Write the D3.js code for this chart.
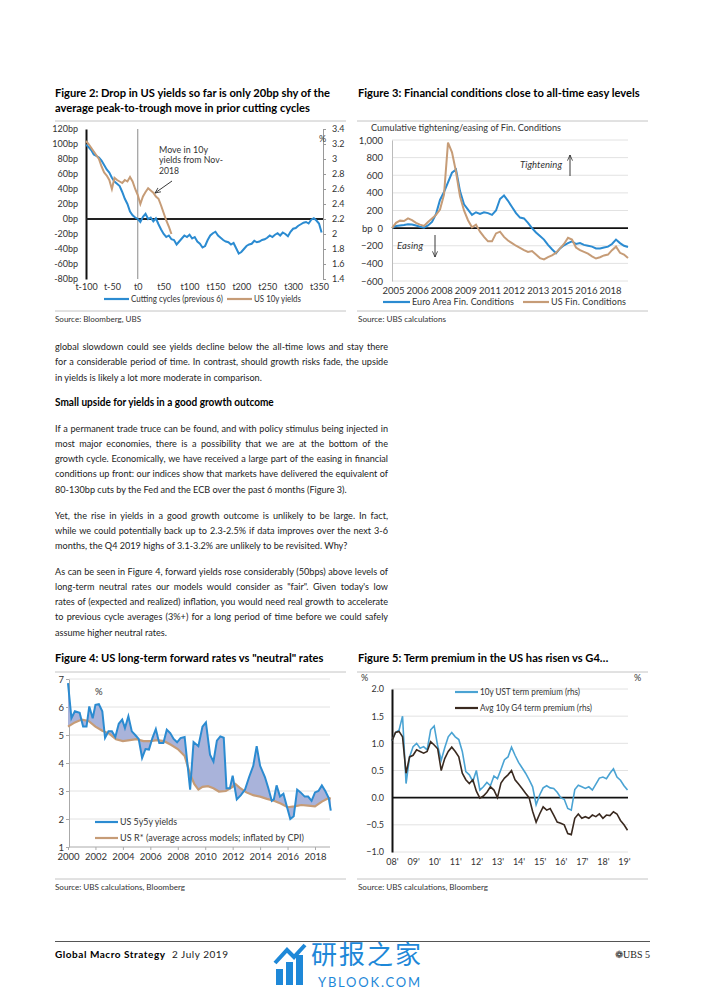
<!DOCTYPE html>
<html>
<head>
<meta charset="utf-8">
<script src="https://cdn.jsdelivr.net/npm/d3@7"></script>
<style>
  body { margin: 0; background: #fff; }
  svg text { font-family: Lato, "Open Sans", sans-serif; fill: #222; }
  .title { font-weight: bold; fill: #000; }
  .tick text { font-size: 9px; fill: #333; }
  .legend { font-size: 9px; fill: #333; }
  .note { font-size: 9px; fill: #333; }
  .source { font-size: 8.3px; fill: #333; }
  .rule { stroke: #c4c4c4; stroke-width: 1; }
  .grid { stroke: #e2e2e2; stroke-width: 1; }
</style>
</head>
<body>
<svg id="page" width="702" height="991"></svg>
<script>
// ---------- Figure 2: cutting cycles vs US 10y ----------
var cycleTicks = [-100, -50, 0, 50, 100, 150, 200, 250, 300, 350];
var bpTicks = [-80, -60, -40, -20, 0, 20, 40, 60, 80, 100, 120];
var pctTicks = [1.4, 1.6, 1.8, 2.0, 2.2, 2.4, 2.6, 2.8, 3.0, 3.2, 3.4];
// bp, one point every 5 days starting at t-100
var cuttingCycles = [99, 96, 92, 86, 84, 82, 78, 72, 66, 62, 55, 50, 47, 44, 36, 27, 20, 10, 5, 2,
  0, -4, 3, 7, 0, 2, -3, 1, -7, -14, -20, -24, -22, -27, -28, -34, -30, -26, -22, -24,
  -21, -26, -24, -30, -33, -38, -36, -28, -22, -19, -17, -22, -25, -28, -30, -31, -34, -32, -39, -46,
  -44, -40, -36, -34, -33, -29, -31, -30, -28, -27, -25, -22, -24, -21, -19, -22, -18, -20, -23, -17,
  -13, -12, -9, -7, -5, -4, -6, -1, 1, -2, -6, -18];
// %, one point every 5 days starting at t-100 (Nov-2018 peak)
var us10y = [3.24, 3.20, 3.15, 3.10, 3.05, 3.00, 2.90, 2.82, 2.78, 2.72, 2.60, 2.75, 2.72, 2.70, 2.68, 2.72, 2.70,
  2.76, 2.70, 2.60, 2.52, 2.40, 2.50, 2.56, 2.61, 2.58, 2.55, 2.50, 2.47, 2.38, 2.28, 2.18, 2.10, 2.00];

// ---------- Figure 3: financial conditions ----------
var fciLabels = ['2005', '2006', '2008', '2009', '2011', '2012', '2013', '2015', '2016', '2018'];
var fciTicks = [-600, -400, -200, 0, 200, 400, 600, 800, 1000];
var euroFci = [0, 25, 30, 35, 45, 40, 30, 15, 5, 30, 70, 160, 320, 410, 520, 630, 665, 420, 270, 210,
  150, 180, 160, 180, 170, 150, 200, 330, 370, 310, 240, 170, 120, 110, 60, 0, -50, -90, -130, -190,
  -240, -285, -230, -195, -170, -150, -180, -170, -190, -200, -210, -230, -230, -220, -210, -180, -130, -170, -200, -215];
var usFci = [0, 60, 85, 80, 110, 90, 60, 40, 25, 70, 110, 150, 210, 380, 970, 860, 640, 360, 200, 90,
  10, 40, -40, -100, -150, -150, -60, -40, -100, -140, -170, -200, -225, -250, -270, -260, -300, -340, -355, -330,
  -310, -280, -230, -180, -110, -130, -220, -250, -270, -290, -320, -345, -330, -310, -300, -250, -210, -280, -300, -340];

// ---------- Figure 4: 5y5y vs R* ----------
var yearTicks = [2000, 2002, 2004, 2006, 2008, 2010, 2012, 2014, 2016, 2018];
var rateTicks = [1, 2, 3, 4, 5, 6, 7];
var fwdYears = [2000.0, 2000.25, 2000.5, 2000.85, 2001.1, 2001.35, 2001.55, 2001.8, 2002.0, 2002.25, 2002.5, 2002.7,
  2002.95, 2003.2, 2003.45, 2003.7, 2003.95, 2004.15, 2004.4, 2004.65, 2004.9, 2005.15, 2005.4, 2005.65, 2005.9,
  2006.15, 2006.4, 2006.65, 2006.95, 2007.2, 2007.45, 2007.7, 2007.95, 2008.2, 2008.5, 2008.9, 2009.15, 2009.5,
  2009.8, 2010.05, 2010.35, 2010.6, 2010.85, 2011.1, 2011.35, 2011.55, 2011.8, 2012.0, 2012.3, 2012.6, 2012.9,
  2013.2, 2013.5, 2013.75, 2014.0, 2014.35, 2014.6, 2014.85, 2015.0, 2015.2, 2015.45, 2015.7, 2015.95, 2016.2,
  2016.45, 2016.7, 2016.95, 2017.25, 2017.5, 2017.75, 2018.0, 2018.25, 2018.5, 2018.75, 2019.0, 2019.15];
var fwdYields = [6.85, 5.6, 5.85, 5.79, 5.3, 5.3, 6.02, 5.6, 6.08, 6.1, 5.85, 4.9,
  5.13, 5.13, 4.93, 5.4, 5.55, 5.25, 5.67, 5.13, 5.0, 4.86, 4.18, 4.5, 4.48,
  4.89, 5.21, 4.71, 4.71, 5.19, 5.07, 4.86, 4.74, 4.89, 4.93, 3.05, 4.75, 4.6,
  5.3, 5.45, 4.3, 4.05, 4.8, 4.95, 4.9, 3.1, 3.1, 3.55, 2.7, 2.85, 3.05,
  3.5, 3.9, 4.6, 3.9, 3.5, 3.1, 2.65, 2.7, 3.2, 2.8, 2.9, 2.45, 2.0,
  2.1, 3.05, 2.95, 2.8, 2.8, 2.65, 2.95, 3.0, 3.2, 3.0, 2.75, 2.3];
var rstarYears = [2000.0, 2000.5, 2001.0, 2001.5, 2002.0, 2002.5, 2003.0, 2003.5, 2004.0, 2004.5, 2005.0, 2005.5,
  2006.0, 2006.5, 2007.0, 2007.5, 2008.0, 2008.5, 2008.9, 2009.2, 2009.5, 2009.8, 2010.2, 2010.6, 2011.0, 2011.5,
  2012.0, 2012.2, 2012.5, 2013.0, 2013.5, 2014.0, 2014.5, 2015.0, 2015.5, 2016.0, 2016.5, 2017.0, 2017.5, 2018.0,
  2018.5, 2019.0, 2019.15];
var rstar = [5.3, 5.45, 5.55, 5.5, 5.3, 5.15, 5.05, 4.85, 4.78, 4.82, 4.85, 4.78,
  4.78, 4.82, 4.78, 4.65, 4.5, 4.25, 3.6, 3.25, 3.05, 3.15, 3.17, 3.1, 2.98, 3.0,
  3.15, 3.25, 3.12, 2.95, 2.85, 2.8, 2.72, 2.65, 2.55, 2.42, 2.45, 2.5, 2.48, 2.45,
  2.62, 2.75, 2.72];

// ---------- Figure 5: term premia ----------
var tpLabels = ["08'", "09'", "10'", "11'", "12'", "13'", "14'", "15'", "16'", "17'", "18'", "19'"];
var tpTicks = [-1.0, -0.5, 0.0, 0.5, 1.0, 1.5, 2.0];
// one point every two months from Jan-2008
var ustPremium = [1.05, 1.2, 1.24, 1.5, 0.26, 0.75, 0.94, 1.0, 0.91, 0.94, 0.88, 1.25, 1.32, 0.95, 0.69, 0.92, 1.12,
  1.2, 1.12, 1.07, 0.85, 0.48, 0.42, 0.3, 0.5, 0.14, 0.2, 0.28, 0.22, 0.4, 0.35, 0.52, 0.7, 0.75, 0.93, 0.78,
  0.65, 0.55, 0.45, 0.33, 0.2, -0.13, 0.05, 0.18, 0.22, 0.18, 0.17, 0.1, 0.0, -0.03, -0.2, -0.23, 0.15, 0.23,
  0.2, 0.17, 0.2, 0.14, 0.25, 0.36, 0.38, 0.35, 0.45, 0.53, 0.38, 0.32, 0.22, 0.14];
var g4Premium = [1.05, 1.2, 1.22, 1.12, 0.45, 0.75, 0.78, 0.88, 0.85, 0.82, 0.85, 1.03, 0.97, 0.9, 0.5, 0.72, 0.85,
  0.93, 0.85, 0.75, 0.45, 0.33, 0.26, 0.33, 0.12, -0.01, 0.03, 0.1, 0.2, 0.14, 0.0, 0.27, 0.36, 0.42, 0.5, 0.33,
  0.25, 0.17, 0.08, 0.0, -0.25, -0.45, -0.3, -0.17, -0.23, -0.2, -0.32, -0.45, -0.47, -0.5, -0.66, -0.68, -0.38,
  -0.3, -0.38, -0.35, -0.38, -0.32, -0.35, -0.3, -0.38, -0.32, -0.33, -0.26, -0.3, -0.42, -0.5, -0.6];

var blue = '#2b8bd1';
var tan = '#c69c77';

var svg = d3.select('#page');

// **** small helpers ****
function rule(x1, x2, y) {
    svg.append('line').attr('class', 'rule')
        .attr('x1', x1).attr('x2', x2).attr('y1', y).attr('y2', y);
}
function txt(x, y, str, cls) {
    return svg.append('text').attr('class', cls || null).attr('x', x).attr('y', y).text(str);
}
// stretch or squeeze a text to the width it has in the reference
function fit(sel, w) {
    var natural = sel.node().getComputedTextLength();
    return sel.attr('textLength', w).attr('lengthAdjust', natural > w ? 'spacingAndGlyphs' : 'spacing');
}
function measure(str, size, weight) {
    var t = svg.append('text').attr('font-size', size).attr('font-weight', weight || 'normal').text(str);
    var w = t.node().getComputedTextLength();
    t.remove();
    return w;
}
function hline(x1, x2, y, color, w) {
    svg.append('line').attr('x1', x1).attr('x2', x2).attr('y1', y).attr('y2', y)
        .attr('stroke', color).attr('stroke-width', w);
}
function legendKey(x1, x2, y, color, label, w) {
    hline(x1, x2, y, color, 2.2);
    fit(txt(x2 + 2, y + 3, label, 'legend'), w);
}

svg.append('defs').append('marker')
    .attr('id', 'arrow').attr('viewBox', '0 0 10 10').attr('refX', 9).attr('refY', 5)
    .attr('markerWidth', 7).attr('markerHeight', 7).attr('orient', 'auto-start-reverse')
    .append('path').attr('d', 'M0,1 L9,5 L0,9').attr('fill', 'none').attr('stroke', '#222').attr('stroke-width', 1.2);

// body copy is set a little narrower than Lato, so glyphs are squeezed horizontally
var squeeze = 0.88;
var titleSize = 10 * 282 / measure('Figure 3: Financial conditions close to all-time easy levels', 10, 'bold');
var bodySize = 10 * 292 / squeeze / measure('80-130bp cuts by the Fed and the ECB over the past 6 months (Figure 3).', 10);
var headSize = 10 * 219 / squeeze / measure('Small upside for yields in a good growth outcome', 10, 'bold');

// **** Figure 2 ****
txt(55, 97, 'Figure 2: Drop in US yields so far is only 20bp shy of the', 'title').attr('font-size', titleSize);
txt(55, 111.5, 'average peak-to-trough move in prior cutting cycles', 'title').attr('font-size', titleSize);
rule(55, 346, 121);

var x2 = d3.scaleLinear().domain([-100, 350]).range([86, 319]);
var y2 = d3.scaleLinear().domain([-80, 120]).range([279, 129]);
var y2r = d3.scaleLinear().domain([1.4, 3.4]).range([279, 129]);

svg.append('g').attr('transform', 'translate(86,0)')
    .call(d3.axisLeft(y2).tickValues(bpTicks).tickSize(0).tickPadding(8).tickFormat(function(d) { return d + 'bp'; }))
    .call(function(g) { g.select('.domain').attr('stroke', '#111').attr('stroke-width', 2); });

svg.append('g').attr('transform', 'translate(323,0)')
    .call(d3.axisRight(y2r).tickValues(pctTicks).tickSize(3).tickPadding(6)
        .tickFormat(function(d) { return String(+d.toFixed(1)); }))
    .call(function(g) {
        g.select('.domain').attr('stroke', '#999');
        g.selectAll('.tick line').attr('stroke', '#999');
    });
txt(319, 142, '%', 'note');

svg.append('g').attr('transform', 'translate(0,279)')
    .call(d3.axisBottom(x2).tickValues(cycleTicks).tickSize(0).tickPadding(5)
        .tickFormat(function(d) { return 't' + d; }))
    .call(function(g) { g.select('.domain').remove(); });

svg.append('line').attr('x1', x2(0)).attr('x2', x2(0)).attr('y1', 129).attr('y2', 279)
    .attr('stroke', '#8a8a8a').attr('stroke-width', 1);
hline(86, 323, y2(0), '#222', 2);

svg.append('path').datum(cuttingCycles)
    .attr('fill', 'none').attr('stroke', blue).attr('stroke-width', 2)
    .attr('d', d3.line().x(function(d, i) { return x2(-100 + 5 * i); }).y(function(d) { return y2(d); }));
svg.append('path').datum(us10y)
    .attr('fill', 'none').attr('stroke', tan).attr('stroke-width', 2)
    .attr('d', d3.line().x(function(d, i) { return x2(-100 + 5 * i); }).y(function(d) { return y2r(d); }));

fit(txt(159, 152.5, 'Move in 10y', 'note'), 49);
fit(txt(159, 163, 'yields from Nov-', 'note'), 64);
fit(txt(159, 173.5, '2018', 'note'), 20);
svg.append('line').attr('x1', 172).attr('y1', 181).attr('x2', 155).attr('y2', 193)
    .attr('stroke', '#222').attr('stroke-width', 0.9).attr('marker-end', 'url(#arrow)');

legendKey(104, 129, 299, blue, 'Cutting cycles (previous 6)', 92);
legendKey(227, 252, 299, tan, 'US 10y yields', 47);
rule(55, 346, 311);
fit(txt(55, 322, 'Source:  Bloomberg, UBS', 'source'), 86);

// **** Figure 3 ****
txt(358, 97, 'Figure 3: Financial conditions close to all-time easy levels', 'title').attr('font-size', titleSize);
rule(357, 648, 121);
fit(txt(371, 130.5, 'Cumulative tightening/easing of Fin. Conditions', 'note').style('font-size', '9.5px'), 190);

var x3 = d3.scaleLinear().domain([0, usFci.length - 1]).range([392, 628]);
var x3lab = d3.scalePoint().domain(fciLabels).range([393, 610]);
var y3 = d3.scaleLinear().domain([-600, 1000]).range([281, 140]);

svg.append('g').selectAll('line').data(fciTicks.filter(function(d) { return d !== 0; }))
    .enter().append('line').attr('class', 'grid')
    .attr('x1', 392).attr('x2', 628).attr('y1', function(d) { return y3(d); }).attr('y2', function(d) { return y3(d); });

svg.append('g').attr('transform', 'translate(392,0)')
    .call(d3.axisLeft(y3).tickValues(fciTicks).tickSize(0).tickPadding(9).tickFormat(d3.format(',')))
    .call(function(g) {
        g.select('.domain').attr('stroke', '#bbb');
        g.selectAll('.tick text').style('font-size', '9.5px');
    });
txt(362, y3(0) + 3.5, 'bp', 'note').style('font-size', '9.5px');

svg.append('g').attr('transform', 'translate(0,281)')
    .call(d3.axisBottom(x3lab).tickSize(0).tickPadding(6))
    .call(function(g) {
        g.select('.domain').remove();
        g.selectAll('.tick text').style('font-size', '9.5px');
    });

hline(392, 628, y3(0), '#111', 1.6);

var fciLine = d3.line().x(function(d, i) { return x3(i); }).y(function(d) { return y3(d); });
svg.append('path').datum(euroFci).attr('fill', 'none').attr('stroke', blue).attr('stroke-width', 2).attr('d', fciLine);
svg.append('path').datum(usFci).attr('fill', 'none').attr('stroke', tan).attr('stroke-width', 2).attr('d', fciLine);

fit(txt(520, 167.5, 'Tightening', 'note').style('font-style', 'italic').style('font-size', '9.5px'), 42);
svg.append('line').attr('x1', 570).attr('x2', 570).attr('y1', 176).attr('y2', 155)
    .attr('stroke', '#222').attr('stroke-width', 0.9).attr('marker-end', 'url(#arrow)');
fit(txt(397, 249, 'Easing', 'note').style('font-style', 'italic').style('font-size', '9.5px'), 26);
svg.append('line').attr('x1', 435).attr('x2', 435).attr('y1', 235).attr('y2', 257)
    .attr('stroke', '#222').attr('stroke-width', 0.9).attr('marker-end', 'url(#arrow)');

legendKey(383, 410, 302, blue, 'Euro Area Fin. Conditions', 102);
legendKey(523, 549, 302, tan, 'US Fin. Conditions', 75);
rule(357, 648, 311);
fit(txt(358, 322, 'Source:  UBS calculations', 'source'), 88);

// **** Body text ****
// each line sits in its own squeezed frame; justified lines get extra word spacing
function bodyLine(str, y, size, bold, justify) {
    var t = svg.append('text')
        .attr('transform', 'translate(55,' + y + ') scale(' + squeeze + ',1)')
        .attr('font-size', size).attr('font-weight', bold ? 'bold' : null)
        .style('fill', bold ? '#000' : '#222')
        .text(str);
    if (justify) {
        var w = t.node().getComputedTextLength();
        var gaps = str.split(' ').length - 1;
        t.attr('word-spacing', (333 / squeeze - w) / gaps);
    }
    return t;
}
function paragraph(lines, y0) {
    lines.forEach(function(line, i) {
        bodyLine(line, y0 + i * 15.3, bodySize, false, i < lines.length - 1);
    });
}
paragraph([
    'global slowdown could see yields decline below the all-time lows and stay there',
    'for a considerable period of time. In contrast, should growth risks fade, the upside',
    'in yields is likely a lot more moderate in comparison.'
], 350);
bodyLine('Small upside for yields in a good growth outcome', 405.5, headSize, true, false);
paragraph([
    'If a permanent trade truce can be found, and with policy stimulus being injected in',
    'most major economies, there is a possibility that we are at the bottom of the',
    'growth cycle. Economically, we have received a large part of the easing in financial',
    'conditions up front: our indices show that markets have delivered the equivalent of',
    '80-130bp cuts by the Fed and the ECB over the past 6 months (Figure 3).'
], 431.5);
paragraph([
    'Yet, the rise in yields in a good growth outcome is unlikely to be large. In fact,',
    'while we could potentially back up to 2.3-2.5% if data improves over the next 3-6',
    'months, the Q4 2019 highs of 3.1-3.2% are unlikely to be revisited. Why?'
], 518.5);
paragraph([
    'As can be seen in Figure 4, forward yields rose considerably (50bps) above levels of',
    'long-term neutral rates our models would consider as "fair". Given today\'s low',
    'rates of (expected and realized) inflation, you would need real growth to accelerate',
    'to previous cycle averages (3%+) for a long period of time before we could safely',
    'assume higher neutral rates.'
], 574.5);

// **** Figure 4 ****
txt(55, 661.5, 'Figure 4: US long-term forward rates vs "neutral" rates', 'title').attr('font-size', titleSize);
rule(55, 346, 672);

var x4 = d3.scaleLinear().domain([2000, 2018]).range([68, 315]);
var y4 = d3.scaleLinear().domain([1, 7]).range([847, 679]);

svg.append('g').selectAll('line').data(rateTicks.slice(1))
    .enter().append('line').attr('class', 'grid')
    .attr('x1', 69).attr('x2', 330).attr('y1', function(d) { return y4(d); }).attr('y2', function(d) { return y4(d); });

svg.append('g').attr('transform', 'translate(69,0)')
    .call(d3.axisLeft(y4).tickValues(rateTicks).tickSize(3).tickPadding(2).tickSizeOuter(0)
        .tickFormat(d3.format('d')))
    .call(function(g) {
        g.select('.domain').attr('stroke', '#aaa');
        g.selectAll('.tick line').attr('stroke', '#aaa');
        g.selectAll('.tick text').style('font-size', '9.5px');
    });
svg.append('g').attr('transform', 'translate(0,847)')
    .call(d3.axisBottom(x4).tickValues(yearTicks).tickSize(3).tickPadding(3).tickSizeOuter(0)
        .tickFormat(d3.format('d')))
    .call(function(g) {
        g.select('.domain').attr('stroke', '#aaa').attr('d', 'M69,0H330');
        g.selectAll('.tick line').attr('stroke', '#aaa');
        g.selectAll('.tick text').style('font-size', '9.5px');
    });
txt(95, 695, '%', 'note').style('font-size', '9.5px');

var fwdPts = fwdYears.map(function(d, i) { return [d, fwdYields[i]]; });
var rstarPts = rstarYears.map(function(d, i) { return [d, rstar[i]]; });
var pt4 = d3.line().x(function(d) { return x4(d[0]); }).y(function(d) { return y4(d[1]); });
svg.append('path').datum(fwdPts.concat(rstarPts.slice().reverse()))
    .attr('fill', '#a9b3da').attr('stroke', 'none')
    .attr('d', function(d) { return pt4(d) + 'Z'; });
svg.append('path').datum(rstarPts).attr('fill', 'none').attr('stroke', tan).attr('stroke-width', 2.2).attr('d', pt4);
svg.append('path').datum(fwdPts).attr('fill', 'none').attr('stroke', blue).attr('stroke-width', 2).attr('d', pt4);

legendKey(95, 118, 822, blue, 'US 5y5y yields', 57);
legendKey(95, 118, 838, tan, 'US R* (average across models; inflated by CPI)', 184);
rule(55, 346, 879);
fit(txt(55, 890, 'Source:  UBS calculations, Bloomberg', 'source'), 130);

// **** Figure 5 ****
txt(358, 661.5, 'Figure 5: Term premium in the US has risen vs G4\u2026', 'title').attr('font-size', titleSize);
rule(357, 648, 672);

var x5 = d3.scaleLinear().domain([2008, 2019]).range([392, 624]);
var x5lab = d3.scalePoint().domain(tpLabels).range([392, 624]);
var y5 = d3.scaleLinear().domain([-1, 2]).range([852, 689]);

svg.append('g').selectAll('line').data(tpTicks.filter(function(d) { return d !== 0; }))
    .enter().append('line').attr('class', 'grid')
    .attr('x1', 392).attr('x2', 628).attr('y1', function(d) { return y5(d); }).attr('y2', function(d) { return y5(d); });

svg.append('g').attr('transform', 'translate(392,0)')
    .call(d3.axisLeft(y5).tickValues(tpTicks).tickSize(0).tickPadding(8).tickFormat(d3.format('.1f')))
    .call(function(g) { g.select('.domain').attr('stroke', '#111').attr('stroke-width', 2); });
svg.append('g').attr('transform', 'translate(0,852)')
    .call(d3.axisBottom(x5lab).tickSize(0).tickPadding(7))
    .call(function(g) { g.select('.domain').remove(); });
txt(361, 681, '%', 'note');
txt(634, 681, '%', 'note');

hline(392, 628, y5(0), '#111', 1.6);

var tpLine = d3.line().x(function(d, i) { return x5(2008 + i / 6); }).y(function(d) { return y5(d); });
svg.append('path').datum(ustPremium).attr('fill', 'none').attr('stroke', '#4aa3d3').attr('stroke-width', 1.6).attr('d', tpLine);
svg.append('path').datum(g4Premium).attr('fill', 'none').attr('stroke', '#3a2a20').attr('stroke-width', 1.6).attr('d', tpLine);

legendKey(455, 478, 692, '#4aa3d3', '10y UST term premium (rhs)', 100);
legendKey(455, 478, 708, '#3a2a20', 'Avg 10y G4 term premium (rhs)', 112);
rule(357, 648, 879);
fit(txt(358, 890, 'Source:  UBS calculations, Bloomberg', 'source'), 130);

// **** Footer ****
hline(55, 650, 941.5, '#555', 1);
fit(txt(55, 958, 'Global Macro Strategy', 'title').attr('font-size', 10), 110);
fit(txt(172, 958, '2 July 2019', null).attr('font-size', 10), 56);
txt(650, 958, '\u2741UBS  5', null).attr('text-anchor', 'end').attr('font-size', 10)
    .style('font-family', '"Liberation Serif", serif');

// watermark
var wm = svg.append('g').attr('fill', '#1e88d8');
wm.append('rect').attr('x', 276).attr('y', 969).attr('width', 7).attr('height', 16);
wm.append('rect').attr('x', 286).attr('y', 962).attr('width', 7).attr('height', 23);
wm.append('rect').attr('x', 296).attr('y', 955).attr('width', 7).attr('height', 30);
wm.append('path').attr('d', 'M275,963 L287,950 L294,957 L305,945').attr('fill', 'none')
    .attr('stroke', '#1e88d8').attr('stroke-width', 4);
svg.append('text').attr('x', 311).attr('y', 964).text('研报之家')
    .style('font-family', '"Noto Sans CJK SC", sans-serif').style('font-size', '26px').style('fill', '#1e88d8')
    .attr('textLength', 110);
svg.append('text').attr('x', 318).attr('y', 987).text('YBLOOK.COM')
    .style('font-size', '13px').style('fill', '#1e88d8').attr('textLength', 102);
</script>
</body>
</html>
